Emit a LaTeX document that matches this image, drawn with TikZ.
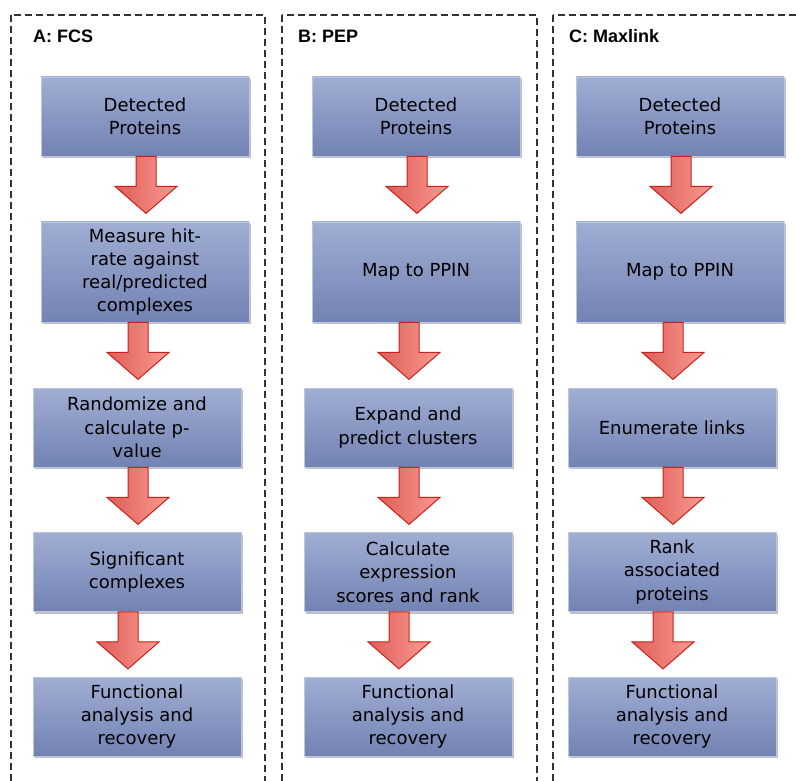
\documentclass[tikz,border=0pt]{standalone}
\usepackage{fontspec}
\setmainfont{DejaVu Sans}
\newfontfamily\titlefont{Liberation Sans}
\usetikzlibrary{shadows}

\definecolor{boxtop}{RGB}{160,174,212}
\definecolor{boxbot}{RGB}{114,130,178}
\definecolor{boxedge}{RGB}{186,198,228}
\definecolor{arrdark}{RGB}{222,94,88}
\definecolor{arrlight}{RGB}{250,154,146}
\definecolor{arredge}{RGB}{196,34,26}

\tikzset{
  stepbox/.style={rectangle, minimum width=208pt, minimum height=79pt, inner sep=0pt,
    top color=boxtop, bottom color=boxbot, draw=boxedge, line width=0.8pt,
    align=center, font=\fontsize{18}{23.3}\selectfont,
    drop shadow={shadow xshift=2pt, shadow yshift=-2pt, opacity=0.25, fill=black}},
  tallbox/.style={stepbox, minimum height=100pt},
  panel/.style={draw=black!80, dash pattern=on 7pt off 4pt, line width=1.3pt},
  paneltitle/.style={anchor=base west, inner sep=0pt, font=\titlefont\bfseries\fontsize{18}{20}\selectfont},
  blockarrow/.style={draw=arredge, line width=1pt, line join=miter, left color=arrdark, right color=arrlight}
}

% block arrow hanging under a box, #2 = sideways shift
\newcommand{\flowarrow}[2]{%
  \draw[blockarrow] ([xshift=#2pt]#1.south) ++(-10,0) -- ++(0,30) -- ++(-21,0) -- ++(31,27)
    -- ++(31,-27) -- ++(-21,0) -- ++(0,-30) -- cycle;}

\begin{document}
\begin{tikzpicture}[x=1pt,y=-1pt]
    \useasboundingbox (0,0) rectangle (796,781);
    \begin{scope}
        \clip (0,0) rectangle (796,781);
        \draw[panel] (11,15) rectangle (265,800);
        \draw[panel] (282,15) rectangle (537,800);
        \draw[panel] (553,15) rectangle (808,800);
    \end{scope}

    \node[paneltitle] (tfcs) at (33,43) {A: FCS};
    \node[paneltitle] (tpep) at (298,43) {B: PEP};
    \node[paneltitle] (tmxl) at (569,43) {C: Maxlink};

    % A: FCS
    \node[stepbox] (fcs1) at (145,116.5) {Detected\\Proteins};
    \node[tallbox] (fcs2) at (145,272) {Measure hit-\\rate against\\real/predicted\\complexes};
    \node[stepbox] (fcs3) at (137,427.5) {Randomize and\\calculate p-\\value};
    \node[stepbox] (fcs4) at (137,572) {Significant\\complexes};
    \node[stepbox] (fcs5) at (137,716.5) {Functional\\analysis and\\recovery};

    % B: PEP
    \node[stepbox] (pep1) at (416,116.5) {Detected\\Proteins};
    \node[tallbox] (pep2) at (416,272) {Map to PPIN};
    \node[stepbox] (pep3) at (408,427.5) {Expand and\\predict clusters};
    \node[stepbox] (pep4) at (408,572) {Calculate\\expression\\scores and rank};
    \node[stepbox] (pep5) at (408,716.5) {Functional\\analysis and\\recovery};

    % C: Maxlink
    \node[stepbox] (mxl1) at (680,116.5) {Detected\\Proteins};
    \node[tallbox] (mxl2) at (680,272) {Map to PPIN};
    \node[stepbox] (mxl3) at (672,427.5) {Enumerate links};
    \node[stepbox] (mxl4) at (672,572) {Rank\\associated\\proteins};
    \node[stepbox] (mxl5) at (672,716.5) {Functional\\analysis and\\recovery};

    \foreach \col in {fcs,pep,mxl} {
        \flowarrow{\col1}{1}
        \flowarrow{\col2}{-7}
        \flowarrow{\col3}{1}
        \flowarrow{\col4}{-9}
    }
\end{tikzpicture}
\end{document}
